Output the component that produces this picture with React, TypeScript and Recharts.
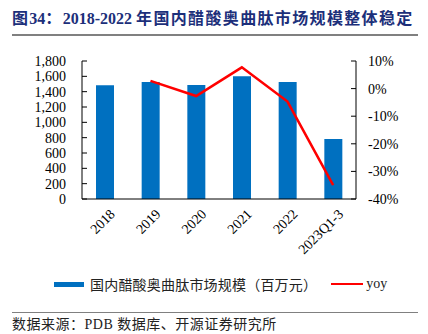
import React from "react";
import {
  Bar,
  ComposedChart,
  Line,
  XAxis,
  YAxis,
} from "recharts";

const CATEGORIES = ["2018", "2019", "2020", "2021", "2022", "2023Q1-3"];
const MARKET_SIZE = [1485, 1527, 1486, 1600, 1525, 782];
const YOY = [null, 2.8, -2.7, 7.7, -4.7, -35.0];
const LEFT_TICKS = [0, 200, 400, 600, 800, 1000, 1200, 1400, 1600, 1800];
const RIGHT_TICKS = [-40, -30, -20, -10, 0, 10];
const BOUNDARY_TICKS = [1, 2, 3, 4, 5];

const BLUE = "#0070C0";
const RED = "#FF0000";
const SERIF = '"Liberation Serif", "Times New Roman", "Noto Sans CJK SC", serif';
const CJK = '"Liberation Serif", "Noto Sans CJK SC", serif';

const data = CATEGORIES.map((name, i) => ({
  name,
  size: MARKET_SIZE[i],
  yoy: YOY[i],
}));

function XTick({ x, y, payload }: any) {
  return (
    <g transform={`translate(${x + 5},${y + 2})`}>
      <text
        x={0}
        y={0}
        dy="0.6em"
        textAnchor="end"
        transform="rotate(-45)"
        fontSize={14}
        fontFamily={SERIF}
        fill="#000"
      >
        {payload.value}
      </text>
    </g>
  );
}

const wide = { letterSpacing: 1.35 };

export default function App() {
  return (
    <div
      style={{
        position: "absolute",
        left: 0,
        top: 0,
        width: 428,
        height: 334,
        background: "#fff",
        overflow: "hidden",
      }}
    >
      <div
        style={{
          position: "absolute",
          left: 12,
          top: 8,
          fontFamily: CJK,
          fontWeight: 700,
          fontSize: 16,
          color: "#1c2f7a",
          whiteSpace: "nowrap",
          lineHeight: "22px",
        }}
      >
        <span style={wide}>图</span>34<span style={wide}>：</span>2018-2022{" "}
        <span style={wide}>年国内醋酸奥曲肽市场规模整体稳定</span>
      </div>
      <div
        style={{
          position: "absolute",
          left: 12,
          top: 34,
          width: 406,
          height: 2,
          background: "#808080",
        }}
      />

      <div style={{ position: "absolute", left: 0, top: 0 }}>
        <ComposedChart
          width={428}
          height={334}
          data={data}
          margin={{ top: 61, right: 0, bottom: 75, left: 0 }}
          barCategoryGap={0}
        >
          <XAxis
            xAxisId="b"
            type="number"
            domain={[0, 6]}
            ticks={BOUNDARY_TICKS}
            tick={false}
            tickSize={-5}
            axisLine={false}
            tickLine={{ stroke: "#000" }}
            height={0}
            allowDataOverflow
          />
          <XAxis
            dataKey="name"
            height={60}
            interval={0}
            tickLine={false}
            axisLine={{ stroke: "#000" }}
            tick={<XTick />}
          />
          <YAxis
            yAxisId="left"
            width={82}
            domain={[0, 1800]}
            ticks={LEFT_TICKS}
            interval={0}
            tickFormatter={(v: number) => v.toLocaleString("en-US")}
            tickSize={-5}
            tickMargin={21}
            axisLine={{ stroke: "#000" }}
            tickLine={{ stroke: "#000" }}
            tick={{ fontSize: 14, fontFamily: SERIF, fill: "#000" }}
          />
          <YAxis
            yAxisId="right"
            orientation="right"
            width={72}
            domain={[-40, 10]}
            ticks={RIGHT_TICKS}
            interval={0}
            tickFormatter={(v: number) => `${v}%`}
            tickSize={-5}
            tickMargin={17}
            axisLine={{ stroke: "#000" }}
            tickLine={{ stroke: "#000" }}
            tick={{ fontSize: 14, fontFamily: SERIF, fill: "#000", textAnchor: "start" }}
          />
          <Bar
            yAxisId="left"
            dataKey="size"
            fill={BLUE}
            barSize={18}
            isAnimationActive={false}
          />
          <Line
            yAxisId="right"
            dataKey="yoy"
            stroke={RED}
            strokeWidth={2.5}
            dot={false}
            activeDot={false}
            connectNulls={false}
            isAnimationActive={false}
          />
        </ComposedChart>
      </div>

      <div
        style={{
          position: "absolute",
          left: 54,
          top: 274,
          height: 20,
          display: "flex",
          alignItems: "center",
          fontFamily: CJK,
          fontSize: 14,
          color: "#222",
          whiteSpace: "nowrap",
        }}
      >
        <span style={{ display: "inline-block", width: 30, height: 5, background: BLUE, marginRight: 6 }} />
        <span style={{ letterSpacing: 0.2 }}>国内醋酸奥曲肽市场规模（百万元）</span>
        <span
          style={{
            display: "inline-block",
            width: 32,
            height: 2.5,
            background: RED,
            marginLeft: 14,
            marginRight: 3,
          }}
        />
        <span>yoy</span>
      </div>

      <div
        style={{
          position: "absolute",
          left: 12,
          top: 312,
          width: 406,
          height: 1,
          background: "#808080",
        }}
      />
      <div
        style={{
          position: "absolute",
          left: 12,
          top: 316,
          fontFamily: CJK,
          fontSize: 14,
          color: "#222",
          whiteSpace: "nowrap",
          lineHeight: "18px",
          letterSpacing: 0.5,
        }}
      >
        数据来源：PDB 数据库、开源证券研究所
      </div>
    </div>
  );
}
